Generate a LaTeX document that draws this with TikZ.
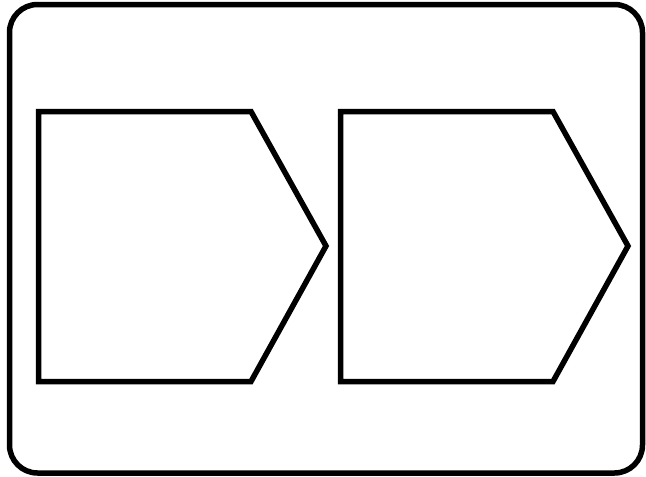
\documentclass[tikz,border=0pt]{standalone}
\begin{document}
\begin{tikzpicture}[x=1pt,y=-1pt,
  frame/.style={draw=black,line width=5.5pt,rounded corners=28pt},
  chevron/.style={draw=black,line width=5.5pt,line join=miter}]
\useasboundingbox (0,0) rectangle (646,477);
\draw[frame] (9.5,4.5) rectangle (642.5,473);
\draw[chevron] (38.5,111.5) -- (251,111.5) -- (326,246) -- (251,381.5) -- (38.5,381.5) -- cycle;
\draw[chevron] (340.5,111.5) -- (553,111.5) -- (628,246) -- (553,381.5) -- (340.5,381.5) -- cycle;
\end{tikzpicture}
\end{document}
